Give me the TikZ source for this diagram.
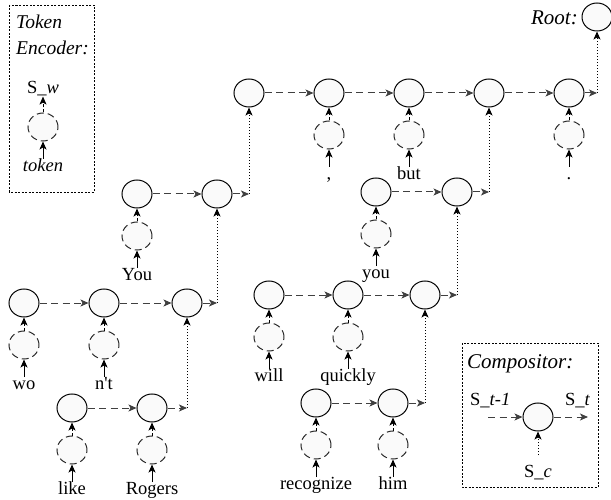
\documentclass[tikz,border=0pt]{standalone}
\usepackage{fontspec}
\setmainfont{Liberation Serif}
\usetikzlibrary{shapes.geometric,arrows.meta}
\begin{document}
\begin{tikzpicture}[x=1pt,y=-1pt,
  comp/.style={ellipse,draw=black,line width=1pt,fill=black!2,minimum width=30pt,minimum height=28pt,inner sep=0pt},
  enc/.style={comp,draw=black!85,dash pattern=on 7pt off 4pt},
  tok/.style={font=\fontsize{18.5}{22}\selectfont,anchor=north,inner sep=0pt,text height=12pt,text depth=4pt},
  arrowtip/.style={-{Stealth[length=8pt,width=7pt,inset=2pt]}},
  hline/.style={arrowtip,draw=black!75,line width=1pt,dash pattern=on 7pt off 4.5pt},
  vline/.style={arrowtip,line width=1pt,dash pattern=on 1pt off 2pt},
  encarr/.style={arrowtip,line width=1pt,dash pattern=on 3pt off 2pt},
  tokarr/.style={arrowtip,line width=1pt},
  legbox/.style={draw,line width=0.7pt,dash pattern=on 2pt off 1.5pt},
  lab/.style={font=\fontsize{19.5}{22}\selectfont\itshape,inner sep=0pt},
  biglab/.style={font=\fontsize{21}{24}\selectfont\itshape,inner sep=0pt},
  slab/.style={font=\fontsize{18.5}{22}\selectfont,inner sep=0pt}
]
\useasboundingbox (0,0) rectangle (611,500);

% leaf compositors with token encoders
\foreach \n/\x/\y/\t in {a1/24/303/wo, a2/104/303/n\textquotesingle t, b1/137/194/You,
  c2/329/93/{,}, c3/409/93/but, c5/569/93/., d1/376/192/you,
  e1/269/295/will, e2/348/295/quickly, f1/316/403/recognize, f2/393/403/him,
  g1/72/408/like, g2/152/408/Rogers}{
  \node[comp] (\n) at (\x,\y) {};
  \node[enc] (\n e) at (\x,\y+42) {};
  \node[tok] (\n t) at (\x,\y+74) {\t};
  \draw[tokarr] (\n t.north) -- (\n e.south);
  \draw[encarr] (\n e.north) -- (\n.south);
}

% inner compositors
\node[comp] (a3) at (187,303) {};
\node[comp] (b2) at (217,194) {};
\node[comp] (c1) at (249,93) {};
\node[comp] (c4) at (489,93) {};
\node[comp] (d2) at (457,192) {};
\node[comp] (e3) at (425,295) {};
\node[comp] (root) at (597,17) {};
\node[biglab,anchor=base east] (rootlab) at (578,25) {Root:};

% row ends
\coordinate (aend) at (217,303);
\coordinate (bend) at (249,194);
\coordinate (cend) at (597,93);
\coordinate (dend) at (489,192);
\coordinate (eend) at (457,295);
\coordinate (fend) at (425,403);
\coordinate (gend) at (187,408);

% horizontal chains
\draw[hline] (a1) -- (a2);
\draw[hline] (a2) -- (a3);
\draw[hline] (a3) -- (aend);
\draw[hline] (b1) -- (b2);
\draw[hline] (b2) -- (bend);
\draw[hline] (c1) -- (c2);
\draw[hline] (c2) -- (c3);
\draw[hline] (c3) -- (c4);
\draw[hline] (c4) -- (c5);
\draw[hline] (c5) -- (cend);
\draw[hline] (d1) -- (d2);
\draw[hline] (d2) -- (dend);
\draw[hline] (e1) -- (e2);
\draw[hline] (e2) -- (e3);
\draw[hline] (e3) -- (eend);
\draw[hline] (f1) -- (f2);
\draw[hline] (f2) -- (fend);
\draw[hline] (g1) -- (g2);
\draw[hline] (g2) -- (gend);

% vertical links
\draw[vline] (aend) -- (b2.south);
\draw[vline] (bend) -- (c1.south);
\draw[vline] (cend) -- (root.south);
\draw[vline] (dend) -- (c4.south);
\draw[vline] (eend) -- (d2.south);
\draw[vline] (fend) -- (e3.south);
\draw[vline] (gend) -- (a3.south);

% Token encoder legend
\draw[legbox] (9,5) rectangle (94,192);
\node[lab,anchor=base west] (tk1) at (16,29) {Token};
\node[lab,anchor=base west] (tk2) at (16,55) {Encoder:};
\node[slab,anchor=base] (sw) at (43,94) {S\_\textit{w}};
\node[enc] (le) at (43,127) {};
\node[tok] (lt) at (43,159) {\textit{token}};
\draw[tokarr] (lt.north) -- (le.south);
\draw[encarr] (le.north) -- (sw.south);

% Compositor legend
\draw[legbox] (462,343) rectangle (598,487);
\node[biglab,anchor=base west] (cl) at (467,368) {Compositor:};
\node[comp] (cn) at (538,417) {};
\coordinate (cin) at (488,417);
\coordinate (cout) at (588,417);
\coordinate (cbot) at (538,455);
\node[slab,anchor=base west] (st1) at (470,405) {S\_\textit{t-1}};
\node[slab,anchor=base west] (st) at (565,405) {S\_\textit{t}};
\node[slab,anchor=base] (sc) at (538,477) {S\_\textit{c}};
\draw[hline] (cin) -- (cn);
\draw[hline] (cn) -- (cout);
\draw[vline] (cbot) -- (cn.south);
\end{tikzpicture}
\end{document}
